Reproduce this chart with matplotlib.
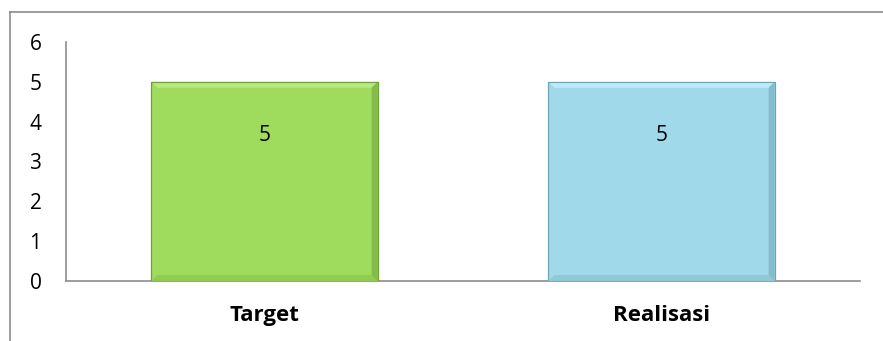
import matplotlib
matplotlib.use("Agg")
import matplotlib.pyplot as plt
from matplotlib.lines import Line2D
from matplotlib.patches import Polygon

categories = ["Target", "Realisasi"]
values = [5, 5]
y_ticks = [0, 1, 2, 3, 4, 5, 6]

W, H = 883, 341
fig = plt.figure(figsize=(W / 100, H / 100), dpi=100)
plt.rcParams['font.family'] = ['Open Sans', 'DejaVu Sans']

# outer chart frame (cropped: only top & left visible)
fig.add_artist(Line2D([10 / W, 10 / W], [0, 1 - 12 / H], transform=fig.transFigure, color="#8c8c8c", lw=1.2))
fig.add_artist(Line2D([10 / W, 1], [1 - 12 / H, 1 - 12 / H], transform=fig.transFigure, color="#8c8c8c", lw=1.2))

ax = fig.add_axes([66 / W, 60 / H, (860 - 66) / W, (281 - 42) / H])
ax.set_ylim(0, 6)
ax.set_xlim(-0.5, 1.5)

face = ["#9fdb5c", "#a0d9e9"]
dark = ["#6f9e3a", "#6fa4b3"]
light = ["#b8e882", "#bdeaf6"]
shade = ["#90cc4f", "#90c8d8"]
rshade = ["#84bc47", "#84bccc"]

bars = ax.bar(range(len(categories)), values, width=0.57, color=face, edgecolor=dark, linewidth=0.8, zorder=3)

for i, b in enumerate(bars):
    x0, y0 = b.get_x(), b.get_y()
    x1, y1 = x0 + b.get_width(), y0 + b.get_height()
    p0 = ax.transData.transform((x0, y0))
    inv = ax.transData.inverted()
    bx = inv.transform((p0[0] + 6, p0[1]))[0] - x0
    by = inv.transform((p0[0], p0[1] + 6))[1] - y0
    top = Polygon([(x0, y1), (x1, y1), (x1 - bx, y1 - by), (x0 + bx, y1 - by)], closed=True,
                  facecolor=light[i], edgecolor="none", zorder=4)
    bottom = Polygon([(x0, y0), (x1, y0), (x1 - bx, y0 + by), (x0 + bx, y0 + by)], closed=True,
                     facecolor=shade[i], edgecolor="none", zorder=4)
    right = Polygon([(x1, y0), (x1, y1), (x1 - bx, y1 - by), (x1 - bx, y0 + by)], closed=True,
                    facecolor=rshade[i], edgecolor="none", zorder=4)
    for p in (top, bottom, right):
        ax.add_patch(p)
    ax.add_patch(Polygon([(x0, y0), (x0, y1), (x1, y1), (x1, y0)], closed=True,
                         facecolor="none", edgecolor=dark[i], lw=0.8, zorder=5))
    ax.text(b.get_x() + b.get_width() / 2, y1 - 1.35, str(values[i]), ha="center", va="center",
            fontsize=15, color="black", zorder=6)

ax.set_yticks(y_ticks)
ax.set_yticklabels([str(t) for t in y_ticks], fontsize=15)
ax.set_xticks(range(len(categories)))
ax.set_xticklabels(categories, fontsize=16, fontweight="bold")
for lbl in ax.get_yticklabels():
    lbl.set_horizontalalignment("center")
ax.tick_params(axis="y", length=0, pad=22)
ax.tick_params(axis="x", length=0, pad=17)

for s in ["top", "right"]:
    ax.spines[s].set_visible(False)
ax.spines["left"].set_color("#8c8c8c")
ax.spines["bottom"].set_color("#8c8c8c")
ax.spines["left"].set_linewidth(1.2)
ax.spines["bottom"].set_linewidth(1.2)

fig.savefig("out.png", dpi=100)
